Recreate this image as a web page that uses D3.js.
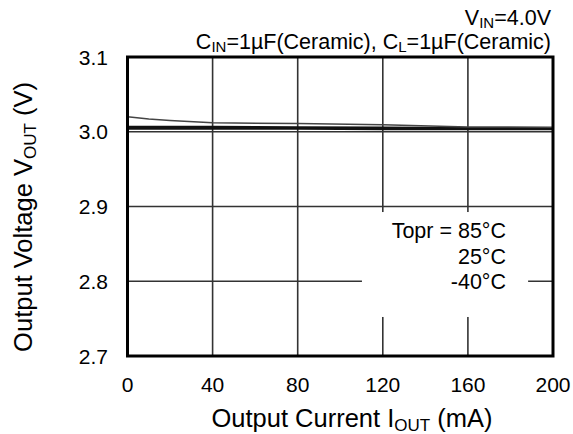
<!DOCTYPE html>
<html>
<head>
<meta charset="utf-8">
<script src="https://cdn.jsdelivr.net/npm/d3@7"></script>
<style>
  body { margin: 0; background: #fff; }
  text { font-family: "Liberation Sans", Arial, sans-serif; fill: #000; }
</style>
</head>
<body>
<script>
// values
const current = [0, 10, 20, 40, 80, 120, 160, 200];
const v85 = [3.020, 3.017, 3.015, 3.012, 3.011, 3.0095, 3.0065, 3.006];
const v25 = [3.0065, 3.0065, 3.0065, 3.0065, 3.006, 3.0055, 3.005, 3.005];
const vm40 = [3.004, 3.004, 3.004, 3.004, 3.004, 3.0035, 3.0035, 3.0035];
const xTicks = [0, 40, 80, 120, 160, 200];
const yTicks = [2.7, 2.8, 2.9, 3.0, 3.1];
const legendLines = ['Topr = 85°C', '25°C', '-40°C'];

const width = 573, height = 434;
const svg = d3.select('body').append('svg')
    .attr('width', width)
    .attr('height', height);

const x = d3.scaleLinear().domain([0, 200]).range([127.5, 553]);
const y = d3.scaleLinear().domain([2.7, 3.1]).range([356, 57]);

// grid
const grid = svg.append('g').attr('stroke', '#333').attr('stroke-width', 1.6);
grid.selectAll('line.v').data(xTicks.slice(1, -1)).enter().append('line')
    .attr('x1', d => x(d)).attr('x2', d => x(d))
    .attr('y1', y(2.7)).attr('y2', y(3.1));
grid.selectAll('line.h').data(yTicks.slice(1, -1)).enter().append('line')
    .attr('x1', x(0)).attr('x2', x(200))
    .attr('y1', d => y(d)).attr('y2', d => y(d));

// blank area behind the legend text
svg.append('rect')
    .attr('x', x(110.2)).attr('width', x(188.3) - x(110.2))
    .attr('y', y(2.8926)).attr('height', y(2.7522) - y(2.8926))
    .attr('fill', '#fff');

// curves
const line = d3.line().x((d, i) => x(current[i])).y(d => y(d));
svg.append('g').selectAll('path')
    .data([vm40, v25, v85]).enter().append('path')
    .attr('d', line)
    .attr('fill', 'none')
    .attr('stroke', (d, i) => i === 2 ? '#444' : '#111')
    .attr('stroke-width', (d, i) => i === 2 ? 1.5 : 2.2);

// frame
svg.append('rect')
    .attr('x', x(0)).attr('y', y(3.1))
    .attr('width', x(200) - x(0)).attr('height', y(2.7) - y(3.1))
    .attr('fill', 'none').attr('stroke', '#000').attr('stroke-width', 3);

// tick labels
svg.append('g').selectAll('text').data(yTicks).enter().append('text')
    .attr('x', 108).attr('y', d => y(d)).attr('dy', '0.36em')
    .attr('text-anchor', 'end').attr('font-size', 21)
    .text(d => d.toFixed(1));
svg.append('g').selectAll('text').data(xTicks).enter().append('text')
    .attr('x', d => x(d)).attr('y', 392)
    .attr('text-anchor', 'middle').attr('font-size', 21)
    .text(d => d);

// axis titles
const xt = svg.append('text').attr('x', 352).attr('y', 427)
    .attr('text-anchor', 'middle').attr('font-size', 25.5);
xt.append('tspan').text('Output Current I');
xt.append('tspan').attr('font-size', 17).attr('dy', 4).text('OUT');
xt.append('tspan').attr('dy', -4).text(' (mA)');

const yt = svg.append('text')
    .attr('transform', 'translate(32,217) rotate(-90)')
    .attr('text-anchor', 'middle').attr('font-size', 25.5);
yt.append('tspan').text('Output Voltage V');
yt.append('tspan').attr('font-size', 17).attr('dy', 4).text('OUT');
yt.append('tspan').attr('dy', -4).text(' (V)');

// header
const h1 = svg.append('text').attr('x', 551).attr('y', 25)
    .attr('text-anchor', 'end').attr('font-size', 21.5);
h1.append('tspan').text('V');
h1.append('tspan').attr('font-size', 15).attr('dy', 3).text('IN');
h1.append('tspan').attr('dy', -3).text('=4.0V');

const h2 = svg.append('text').attr('x', 551).attr('y', 49)
    .attr('text-anchor', 'end').attr('font-size', 21.5);
h2.append('tspan').text('C');
h2.append('tspan').attr('font-size', 15).attr('dy', 3).text('IN');
h2.append('tspan').attr('dy', -3).text('=1µF(Ceramic), C');
h2.append('tspan').attr('font-size', 15).attr('dy', 3).text('L');
h2.append('tspan').attr('dy', -3).text('=1µF(Ceramic)');

// legend
svg.append('g').selectAll('text').data(legendLines).enter().append('text')
    .attr('x', 506).attr('y', (d, i) => 238 + i * 25.5)
    .attr('text-anchor', 'end').attr('font-size', 21.5)
    .text(d => d);
</script>
</body>
</html>
